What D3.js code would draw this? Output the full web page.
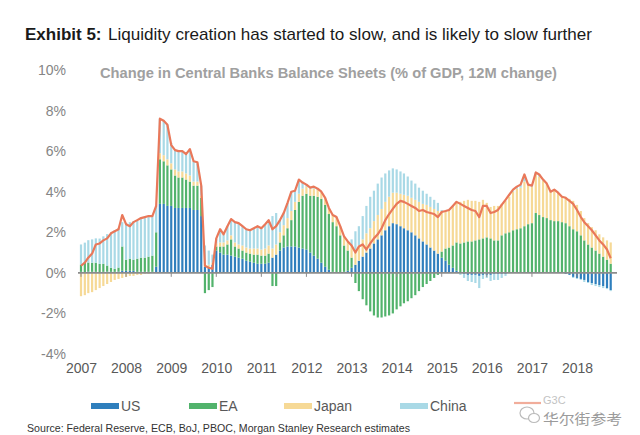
<!DOCTYPE html>
<html><head><meta charset="utf-8">
<script src="https://cdn.jsdelivr.net/npm/d3@7"></script>
<style>
html,body{margin:0;padding:0;background:#fff;}
svg{display:block;}
</style></head>
<body>
<svg id="chart" width="640" height="435"></svg>
<script>
// ---- data (monthly, Jan 2007 - Oct 2018), % of GDP, 12M change ----
const seriesKeys = ["US", "EA", "Japan", "China"];
const yearLabels = ["2007","2008","2009","2010","2011","2012","2013","2014","2015","2016","2017","2018"];
const yTickValues = [-4,-2,0,2,4,6,8,10];

const us = [
 0.05,0.04,0.06,0.05,0.05,0.04,0.05,0.06,0.05,0.05,0.06,0.1,
 0.1,0.1,0.1,0.05,0.05,0.05,0.05,0.05,0.3,3.4,3.4,3.3,
 3.3,3.2,3.2,3.2,3.2,3.2,3.1,3.1,2.8,0.3,0.3,0.4,
 1.1,1.0,0.9,0.9,0.85,0.8,0.75,0.7,0.6,0.55,0.5,0.45,
 0.45,0.45,0.5,0.75,0.9,1.1,1.25,1.3,1.3,1.3,1.25,1.2,
 1.15,1.0,0.85,0.7,0.5,0.3,0.15,0.05,0.0,0.0,0.05,0.1,
 0.25,0.4,0.6,0.8,1.0,1.2,1.45,1.65,1.85,2.1,2.3,2.45,
 2.4,2.3,2.2,2.1,2.0,1.85,1.7,1.55,1.4,1.25,1.1,0.95,
 0.75,0.6,0.4,0.25,0.1,0.0,-0.05,-0.1,-0.1,-0.1,-0.15,-0.1,
 -0.1,-0.1,-0.05,-0.05,-0.05,-0.05,0,0,0,0,0,0,
 0,0,0,0,0,0,0,0,0,-0.05,-0.1,-0.2,
 -0.25,-0.3,-0.35,-0.45,-0.5,-0.55,-0.6,-0.65,-0.75,-0.85
];
const ea = [
 0.35,0.45,0.45,0.45,0.45,0.4,0.4,0.3,0.2,0.15,0.2,1.2,
 0.55,0.6,0.55,0.65,0.7,0.7,0.75,0.8,1.7,2.2,2.1,2.0,
 1.8,1.6,1.5,1.5,1.4,1.3,1.2,1.2,0.9,-1.0,-0.85,-0.7,
 0.2,0.3,0.4,0.5,0.8,0.5,0.45,0.4,0.4,0.4,0.4,0.45,
 0.4,0.4,0.45,-0.65,-0.65,0.4,0.6,0.9,1.3,1.8,2.25,2.6,
 2.75,2.8,2.95,3.05,3.15,3.05,2.75,2.45,2.3,1.85,1.3,1.0,
 0.5,-0.5,-0.9,-1.3,-1.6,-1.9,-2.1,-2.2,-2.2,-2.15,-2.1,-2.0,
 -1.8,-1.65,-1.5,-1.4,-1.25,-1.1,-0.9,-0.7,-0.55,-0.4,-0.25,-0.1,
 0.3,0.6,0.85,1.1,1.4,1.45,1.5,1.55,1.55,1.6,1.65,1.7,
 1.75,1.7,1.6,1.6,1.85,1.95,2.0,2.1,2.15,2.2,2.3,2.4,
 2.45,2.95,2.85,2.75,2.7,2.6,2.55,2.55,2.5,2.45,2.3,2.15,
 2.05,1.85,1.6,1.4,1.25,1.1,0.95,0.8,0.65,0.45
];
const japan = [
 -1.15,-1.1,-1.0,-0.95,-0.85,-0.75,-0.65,-0.55,-0.45,-0.35,-0.3,-0.25,
 -0.2,-0.15,-0.15,-0.1,-0.1,-0.05,-0.05,0,0,0.3,0.3,0.3,
 0.3,0.3,0.3,0.3,0.3,0.3,0.2,0.2,0.1,0.05,0.1,0.1,
 0.15,0.2,0.2,0.2,0.2,0.2,0.2,0.25,0.25,0.25,0.3,0.3,
 0.3,0.35,0.4,0.45,0.5,0.5,0.5,0.5,0.45,0.4,0.4,0.35,
 0.35,0.35,0.35,0.35,0.35,0.35,0.3,0.35,0.4,0.45,0.45,0.45,
 0.6,0.65,0.75,0.85,0.95,1.0,1.1,1.2,1.3,1.4,1.45,1.5,
 1.55,1.6,1.65,1.7,1.7,1.75,1.8,1.85,1.95,2.0,2.05,2.1,
 2.0,1.8,1.8,1.9,2.0,2.05,2.05,2.05,2.0,1.95,1.85,1.9,
 1.7,1.55,1.7,1.7,1.55,1.6,1.75,1.9,2.0,2.0,2.2,1.95,
 1.8,1.9,1.9,1.8,1.7,1.4,1.55,1.4,1.25,1.3,1.35,1.4,
 1.3,1.2,1.1,1.05,1.0,1.0,0.95,0.95,0.95,1.05
];
const china = [
 1.0,1.0,1.1,1.15,1.2,1.25,1.35,1.55,1.75,1.9,1.95,1.2,
 1.8,1.8,1.9,1.9,1.9,1.95,1.95,1.95,1.3,1.7,1.7,1.7,
 1.0,1.0,1.0,1.0,0.95,1.3,1.0,0.9,0.5,1.0,0.7,0.4,
 0.25,0.65,0.4,0.7,0.8,1.0,1.05,0.95,0.9,0.9,1.0,1.1,
 1.05,1.2,1.25,1.6,1.55,0.6,0.6,0.75,0.95,0.55,0.7,0.3,
 0.1,0.05,0.1,0.05,0,0,0,0,0.05,0,0,0,
 0.3,1.0,0.95,1.15,1.35,1.55,1.5,1.55,1.55,1.4,1.3,1.2,
 1.15,1.1,1.05,0.95,0.85,0.8,0.7,0.65,0.55,0.5,0.45,0.4,
 0.05,0.05,0.05,0.05,0.0,-0.1,-0.2,-0.3,-0.35,-0.4,-0.6,-0.2,
 -0.15,-0.3,-0.3,-0.3,-0.2,-0.1,0.0,0.05,0.1,0.15,0.3,0.0,
 0.05,0.1,0.1,0.05,0,0,0,0,0,0,0,-0.05,
 -0.05,-0.05,-0.1,-0.05,-0.1,-0.1,-0.1,-0.1,-0.05,-0.05
];
const g3c = [
 0.35,0.5,0.75,0.95,1.4,1.45,1.6,1.7,1.95,2.05,2.15,2.85,
 2.4,2.3,2.5,2.6,2.7,2.75,2.8,2.8,3.3,7.6,7.5,7.3,
 6.3,6.05,6.0,6.0,5.85,6.1,5.5,5.45,4.3,0.35,0.25,0.2,
 1.7,2.15,1.9,2.3,2.65,2.5,2.45,2.3,2.15,2.1,2.2,2.3,
 2.2,2.4,2.6,2.15,2.3,2.6,2.95,3.45,4.0,4.05,4.6,4.45,
 4.35,4.2,4.25,4.15,4.0,3.7,3.2,2.85,2.75,2.3,1.8,1.55,
 1.35,1.0,1.3,1.4,1.15,1.45,1.7,1.9,2.2,2.6,2.9,3.15,
 3.4,3.55,3.5,3.4,3.3,3.2,3.05,3.1,3.0,2.95,2.9,2.75,
 3.0,3.05,3.1,3.3,3.5,3.4,3.3,3.2,3.1,3.05,2.75,3.3,
 3.3,2.95,3.0,3.1,3.35,3.6,3.85,4.1,4.25,4.35,4.85,4.35,
 4.3,4.95,4.85,4.6,4.4,4.0,4.1,3.95,3.75,3.7,3.55,3.4,
 3.1,2.75,2.5,2.3,2.1,1.85,1.6,1.4,1.15,0.72
];

const colors = {US:"#2f7fbd", EA:"#52b36c", Japan:"#f6d996", China:"#a9d9e6"};
const lineColor = "#e9785a";

// ---- build table ----
const startDate = new Date(2007,0,1);
const months = us.map((v,i) => d3.timeMonth.offset(startDate, i));
const table = months.map((d,i) => ({date:d, US:us[i], EA:ea[i], Japan:japan[i], China:china[i], G3C:g3c[i]}));

const svg = d3.select("#chart");
const x = d3.scaleTime().domain([new Date(2007,0,1), new Date(2018,0,1)]).range([81, 577]);
const y = d3.scaleLinear().domain([-4, 10]).range([354, 70]);

// title
const title = svg.append("text").attr("x", 25).attr("y", 40)
  .style("font-family","'Liberation Sans Narrow','Liberation Sans',Arial,sans-serif")
  .style("font-size","17px").attr("fill","#1a1a1a");
title.append("tspan").attr("font-weight","bold").text("Exhibit 5:");
title.append("tspan").attr("x", 108).text("Liquidity creation has started to slow, and is likely to slow further")
  .attr("textLength", 484).attr("lengthAdjust","spacingAndGlyphs");

// subtitle
svg.append("text").attr("x", 100).attr("y", 78)
  .style("font-family","'Liberation Sans',Arial,sans-serif").style("font-size","14px")
  .attr("font-weight","bold").attr("fill","#a0a0a0")
  .attr("textLength", 457).attr("lengthAdjust","spacingAndGlyphs")
  .text("Change in Central Banks Balance Sheets (% of GDP, 12M change)");

// y labels
svg.append("g").selectAll("text").data(yTickValues).join("text")
  .attr("x", 66).attr("y", d => y(d) + 5).attr("text-anchor","end")
  .style("font-family","'Liberation Sans',Arial,sans-serif").style("font-size","14px")
  .attr("fill","#858585").text(d => d + "%");

// stacked bars
const stack = d3.stack().keys(seriesKeys).offset(d3.stackOffsetDiverging);
const layers = stack(table);
const bw = 2.2;
svg.append("g").selectAll("g").data(layers).join("g")
  .attr("fill", d => colors[d.key])
  .selectAll("rect").data(d => d).join("rect")
  .attr("x", d => x(d.data.date) - bw/2)
  .attr("width", bw)
  .attr("y", d => y(Math.max(d[0], d[1])))
  .attr("height", d => Math.abs(y(d[0]) - y(d[1])));

// zero axis with year ticks
const axisG = svg.append("g").attr("transform", `translate(0,${y(0)})`);
axisG.append("line").attr("x1", 78).attr("x2", 617).attr("stroke","#8c8c8c").attr("stroke-width",1.6);
const yearDates = yearLabels.map(s => new Date(+s, 0, 1));
axisG.selectAll("line.tick").data(yearDates).join("line").attr("class","tick")
  .attr("x1", d => x(d)).attr("x2", d => x(d)).attr("y1", 0).attr("y2", 4)
  .attr("stroke","#8c8c8c").attr("stroke-width",1);

// G3C line
svg.append("path").datum(table)
  .attr("fill","none").attr("stroke", lineColor).attr("stroke-width", 2.2)
  .attr("stroke-linejoin","round")
  .attr("d", d3.line().x(d => x(d.date)).y(d => y(d.G3C)));

// x labels (years)
const xAxis = d3.axisBottom(x).tickValues(yearDates).tickFormat((d,i) => yearLabels[i]).tickSize(0).tickPadding(0);
const xg = svg.append("g").attr("transform","translate(0,363)").call(xAxis);
xg.select(".domain").remove();
xg.selectAll("text").style("font-family","'Liberation Sans',Arial,sans-serif").style("font-size","14px").attr("fill","#595959");

// legend
const legendItems = [
  {key:"US", x:91}, {key:"EA", x:189}, {key:"Japan", x:284}, {key:"China", x:400}
];
const lg = svg.append("g");
legendItems.forEach(it => {
  lg.append("rect").attr("x", it.x).attr("y", 403).attr("width", 28).attr("height", 6).attr("fill", colors[it.key]);
  lg.append("text").attr("x", it.x + 30).attr("y", 411)
    .style("font-family","'Liberation Sans',Arial,sans-serif").style("font-size","14px")
    .attr("fill","#595959").text(it.key);
});
lg.append("line").attr("x1", 514).attr("x2", 541).attr("y1", 403).attr("y2", 403)
  .attr("stroke", lineColor).attr("stroke-width", 2.2).attr("opacity",0.6);
lg.append("text").attr("x", 543).attr("y", 404)
  .style("font-family","'Liberation Sans',Arial,sans-serif").style("font-size","11px")
  .attr("fill","#9a9a9a").attr("opacity",0.6).text("G3C");

// watermark
const wm = svg.append("g").attr("opacity",0.85);
wm.append("ellipse").attr("cx", 527).attr("cy", 413).attr("rx", 7).attr("ry", 6).attr("fill","none").attr("stroke","#b0b0b0").attr("stroke-width",1.2);
wm.append("ellipse").attr("cx", 534).attr("cy", 418).attr("rx", 5.5).attr("ry", 4.5).attr("fill","#fff").attr("stroke","#b0b0b0").attr("stroke-width",1.2);
wm.append("text").attr("x", 543).attr("y", 424)
  .style("font-family","'Noto Sans CJK SC',sans-serif").style("font-size","14px")
  .attr("fill","#8a8a8a").attr("textLength", 79).attr("lengthAdjust","spacingAndGlyphs")
  .text("华尔街参考");

// source
svg.append("text").attr("x", 27).attr("y", 432)
  .style("font-family","'Liberation Sans Narrow','Liberation Sans',Arial,sans-serif").style("font-size","11.5px")
  .attr("fill","#333").attr("textLength", 383).attr("lengthAdjust","spacingAndGlyphs")
  .text("Source: Federal Reserve, ECB, BoJ, PBOC, Morgan Stanley Research estimates");
</script>
</body></html>
